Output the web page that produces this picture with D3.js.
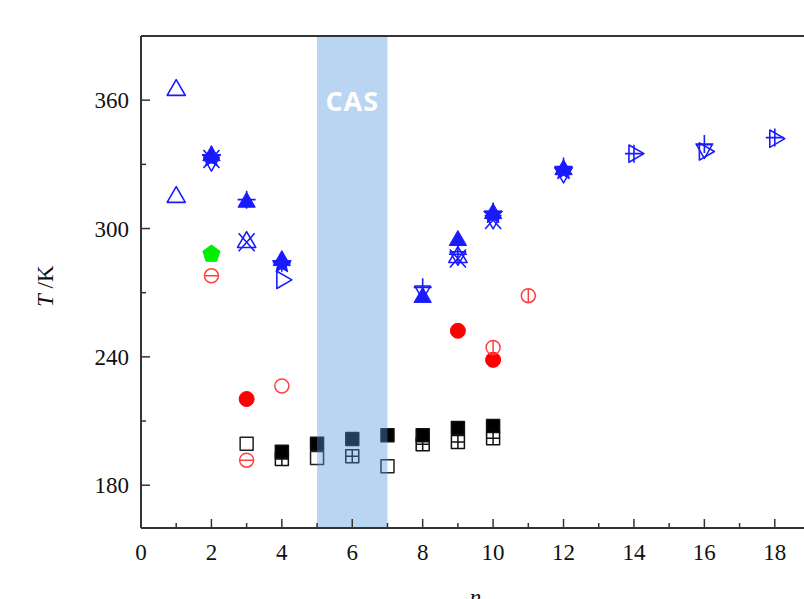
<!DOCTYPE html>
<html><head><meta charset="utf-8">
<script src="https://cdn.jsdelivr.net/npm/d3@7"></script>
<style>body{margin:0;background:#fff}svg{display:block}</style>
</head><body>
<script>
// ---- data ----
const xTicks = [0,2,4,6,8,10,12,14,16,18];
const yTicks = [180,240,300,360];
const casBand = [5,7];
const casLabel = "CAS";
const xLabel = "n";

const blueOpenTriUp   = [[1,364.7],[1,314.7],[3,293.6],[9,286.6]];
const blueX           = [[2,332.5],[3,293.6],[9,286],[10,304]];
const blueFilledTri   = [[2,334],[3,312.3],[4,285],[8,267.8],[9,294.4],[10,307],[12,327.5]];
const blueStar        = [[2,333],[4,283.5],[10,306.5],[12,327]];
const blueOpenTriRight= [[4,276],[14,335],[16,336],[18,342]];
const bluePlus        = [[2,334.5],[3,313.5],[4,284],[8,272.5],[9,288],[10,308],[12,329],[14,335],[16,339.5],[18,342.5]];
const blueOpenTriDown = [[2,331],[8,271],[9,287],[10,304],[12,325.5],[16,337]];
const greenPentagon   = [[2,288.1]];
const redFilledCircle = [[3,220.3],[9,252.2],[10,238.6]];
const redOpenCircle   = [[4,226.4]];
const redThetaH       = [[2,277.9],[3,191.7]];
const redThetaV       = [[10,244.4],[11,268.6]];
const blackGridSquare = [[4,192.2],[6,193.6],[8,199.2],[9,200.2],[10,202]];
const blackOpenSquare = [[3,199.4],[5,192.7],[7,188.9]];
const blackFilledSquare = [[4,195.6],[5,199.4],[6,201.6],[7,203.4],[8,203.4],[9,206.7],[10,207.7]];

// ---- layout ----
const W = 804, H = 599;
const m = {left:141, top:36, right:-6, bottom:71};
const svg = d3.select("body").append("svg").attr("width",W).attr("height",H);
const x = d3.scaleLinear().domain([0,19]).range([m.left, W - m.right]);
const y = d3.scaleLinear().domain([160,390]).range([H - m.bottom, m.top]);

// marker path generators (centered at 0,0)
function tri(r, dir){
  const s = r*Math.sqrt(3);
  let pts;
  if(dir==="up") pts=[[0,-r],[s/2,r/2],[-s/2,r/2]];
  else if(dir==="down") pts=[[0,r],[s/2,-r/2],[-s/2,-r/2]];
  else pts=[[r,0],[-r/2,s/2],[-r/2,-s/2]];
  return "M"+pts.map(p=>p.join(",")).join("L")+"Z";
}
function star(r){
  let p=[];
  for(let i=0;i<10;i++){const a=-Math.PI/2+i*Math.PI/5;const rr=i%2?r*0.45:r;p.push([rr*Math.cos(a),rr*Math.sin(a)]);}
  return "M"+p.map(q=>q.join(",")).join("L")+"Z";
}
function pent(r){
  let p=[];
  for(let i=0;i<5;i++){const a=-Math.PI/2+i*2*Math.PI/5;p.push([r*Math.cos(a),r*Math.sin(a)]);}
  return "M"+p.map(q=>q.join(",")).join("L")+"Z";
}
function circ(r){return `M${r},0A${r},${r} 0 1,1 ${-r},0A${r},${r} 0 1,1 ${r},0Z`;}
function sq(s){return `M${-s/2},${-s/2}H${s/2}V${s/2}H${-s/2}Z`;}

function plotSeries(data, d, fill, stroke, sw){
  svg.append("g").selectAll("path").data(data).join("path")
    .attr("transform", p=>`translate(${x(p[0])},${y(p[1])})`)
    .attr("d", d).attr("fill", fill).attr("stroke", stroke).attr("stroke-width", sw)
    .attr("stroke-linejoin","round");
}
const BLUE = "#1a1aff";

// blue series
plotSeries(blueOpenTriUp, tri(10.5,"up"), "none", BLUE, 1.6);
plotSeries(blueX, "M-8,-9L8,9M8,-9L-8,9", "none", BLUE, 1.6);
plotSeries(blueOpenTriDown, tri(9,"down"), "none", BLUE, 1.5);
plotSeries(blueFilledTri, tri(10,"up"), BLUE, BLUE, 1);
plotSeries(blueStar, star(10), BLUE, BLUE, 1);
plotSeries(blueOpenTriRight, tri(10,"right"), "none", BLUE, 1.6);
plotSeries(bluePlus, "M-9,0H9M0,-9V9", "none", BLUE, 1.6);
// green
plotSeries(greenPentagon, pent(9), "#00ee00", "#00ee00", 1);
// red
plotSeries(redFilledCircle, circ(7.5), "#ff0000", "#ff0000", 1);
plotSeries(redOpenCircle, circ(7), "none", "#ff4040", 1.5);
plotSeries(redThetaH, circ(7)+"M-7,0H7", "none", "#ff4040", 1.5);
plotSeries(redThetaV, circ(7)+"M0,-7V7", "none", "#ff4040", 1.5);
// black
plotSeries(blackGridSquare, sq(13)+"M-6.5,0H6.5M0,-6.5V6.5", "#fff", "#111", 1.5);
plotSeries(blackOpenSquare, sq(13), "#fff", "#222", 1.5);
plotSeries(blackFilledSquare, sq(13), "#000", "#111", 1.5);

// CAS band (semi-transparent, on top of markers)
svg.append("rect")
  .attr("x", x(casBand[0])).attr("y", m.top)
  .attr("width", x(casBand[1]) - x(casBand[0]))
  .attr("height", y(160) - m.top)
  .attr("fill", "rgb(80,150,220)").attr("fill-opacity", 0.4);
svg.append("text").attr("x", (x(casBand[0])+x(casBand[1]))/2).attr("y", 111)
  .attr("text-anchor","middle").attr("fill","#fff")
  .attr("font-family","'Open Sans', Lato, sans-serif").attr("font-weight","bold")
  .attr("font-size", 27).attr("letter-spacing", 1).text(casLabel);

// axes frame
const font = "'Liberation Serif', 'Times New Roman', serif";
svg.append("line").attr("x1", m.left).attr("x2", W).attr("y1", y(160)).attr("y2", y(160)).attr("stroke","#333").attr("stroke-width",2);
svg.append("line").attr("x1", m.left).attr("x2", W).attr("y1", m.top).attr("y2", m.top).attr("stroke","#333").attr("stroke-width",2);
svg.append("line").attr("x1", m.left).attr("x2", m.left).attr("y1", m.top).attr("y2", y(160)).attr("stroke","#333").attr("stroke-width",2);

// x ticks (inward)
const gx = svg.append("g");
gx.selectAll("line").data(d3.range(1,19)).join("line")
  .attr("x1", d=>x(d)).attr("x2", d=>x(d))
  .attr("y1", y(160)).attr("y2", d=> y(160) - (d%2===0 ? 9 : 5))
  .attr("stroke","#333").attr("stroke-width",1.5);
gx.selectAll("text").data(xTicks).join("text")
  .attr("x", d=>x(d)).attr("y", y(160)+32).attr("text-anchor","middle")
  .attr("font-family", font).attr("font-size", 23).attr("fill","#111").text(d=>d);

// y ticks
const gy = svg.append("g");
gy.selectAll("line").data(d3.range(180,390,30)).join("line")
  .attr("x1", m.left).attr("x2", d=> m.left + (d%60===0 ? 9 : 5))
  .attr("y1", d=>y(d)).attr("y2", d=>y(d))
  .attr("stroke","#333").attr("stroke-width",1.5);
gy.selectAll("text").data(yTicks).join("text")
  .attr("x", m.left - 12).attr("y", d=>y(d)+8).attr("text-anchor","end")
  .attr("font-family", font).attr("font-size", 23).attr("fill","#111").text(d=>d);

// axis labels
const yl = svg.append("text").attr("transform", `translate(53,${y(273)}) rotate(-90)`)
  .attr("text-anchor","middle").attr("font-family", font).attr("font-size", 23).attr("fill","#111");
yl.append("tspan").attr("font-style","italic").text("T");
yl.append("tspan").text(" /K");
svg.append("text").attr("x", x(9.5)).attr("y", 605).attr("text-anchor","middle")
  .attr("font-family", font).attr("font-style","italic").attr("font-size", 23).attr("fill","#111").text(xLabel);
</script>
</body></html>
